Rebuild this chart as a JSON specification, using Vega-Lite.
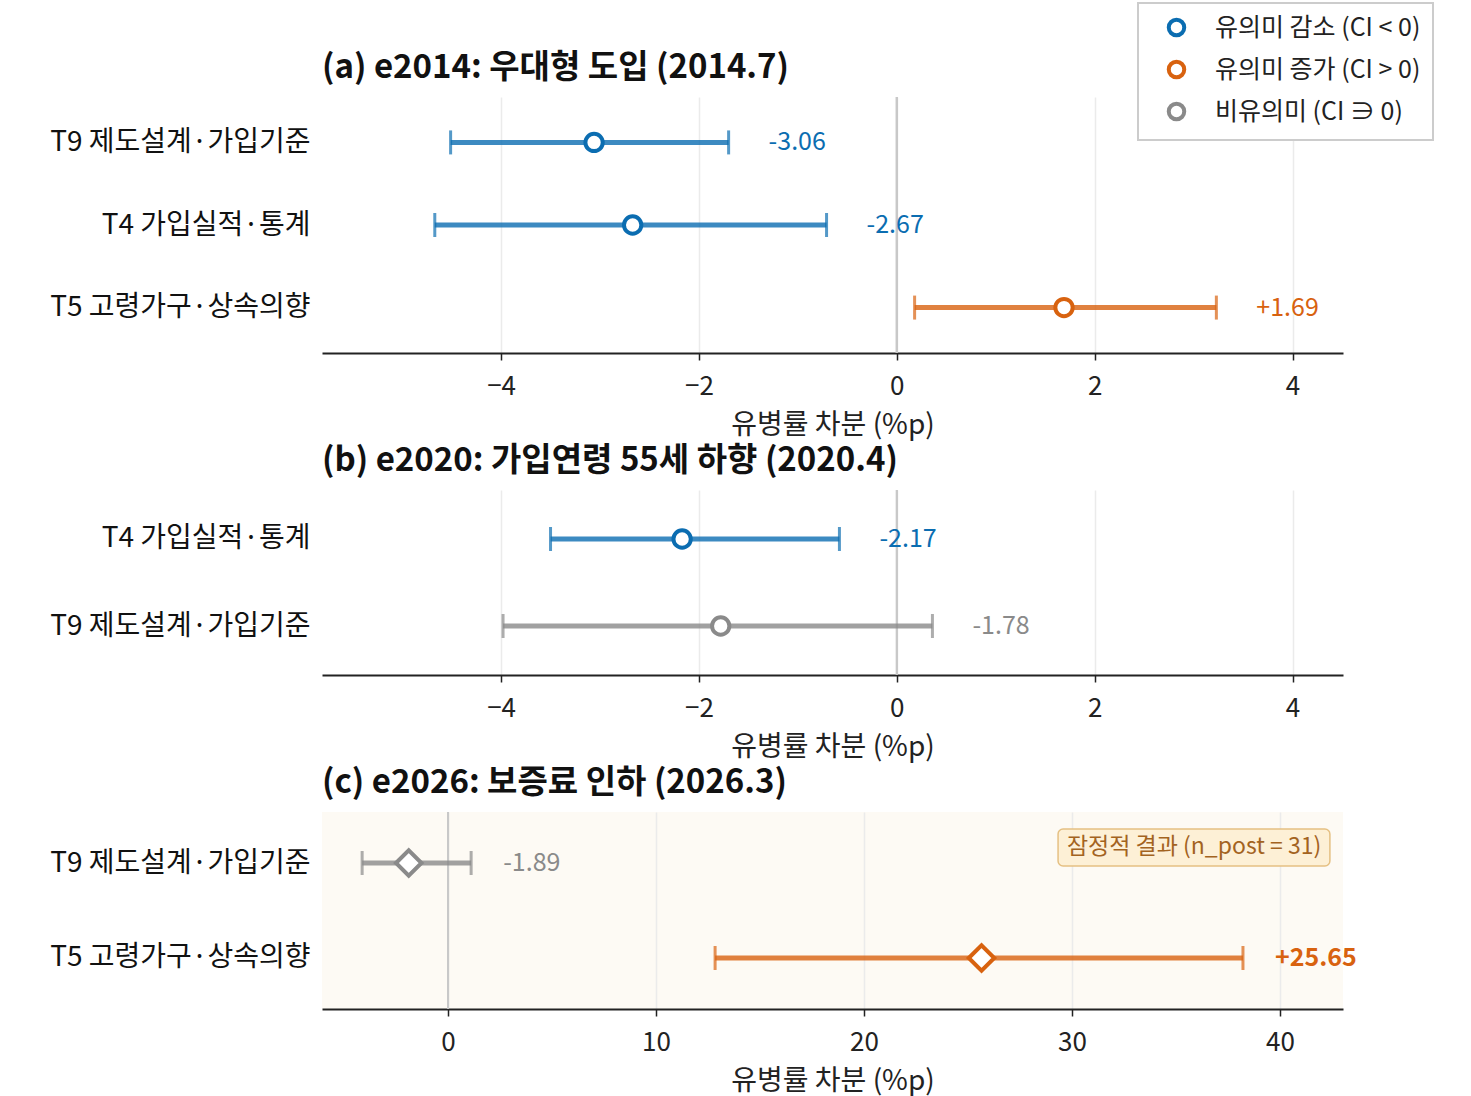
{
  "$schema": "https://vega.github.io/schema/vega-lite/v6.json",
  "background": "white",
  "padding": {"left": 49, "top": 2, "right": 5, "bottom": 5},
  "config": {
    "font": "Noto Sans CJK KR",
    "view": {"stroke": null},
    "concat": {"spacing": 6},
    "title": {"fontSize": 33, "fontWeight": "bold", "anchor": "start", "color": "#111111", "offset": 11, "frame": "group"},
    "axisX": {
      "domainColor": "#222222", "domainWidth": 2, "tickColor": "#222222", "tickWidth": 1.5, "tickSize": 7,
      "labelFontSize": 26, "labelColor": "#222222", "labelPadding": 13, "format": "d",
      "gridColor": "#ebebeb", "gridWidth": 1.5,
      "titleFontSize": 28, "titleFontWeight": "normal", "titleColor": "#222222", "titlePadding": 12
    },
    "axisY": {
      "domain": false, "ticks": false, "grid": false, "labelFontSize": 28, "labelColor": "#111111", "labelPadding": 12, "labelLimit": 0
    },
    "legend": {
      "orient": "none", "legendX": 816, "legendY": -94,
      "strokeColor": "#cccccc", "strokeWidth": 2, "fillColor": "white", "padding": 12,
      "symbolType": "circle", "symbolSize": 240, "symbolStrokeWidth": 4, "symbolFillColor": "white", "symbolOffset": 14,
      "labelFontSize": 25, "labelColor": "#222222", "labelOffset": 26, "rowPadding": 9, "labelLimit": 0
    }
  },
  "datasets": {
    "a": [
      {"topic": "T9 제도설계·가입기준", "est": -3.06, "lo": -4.51, "hi": -1.70, "sig": "유의미 감소 (CI < 0)", "label": "-3.06"},
      {"topic": "T4 가입실적·통계", "est": -2.67, "lo": -4.67, "hi": -0.71, "sig": "유의미 감소 (CI < 0)", "label": "-2.67"},
      {"topic": "T5 고령가구·상속의향", "est": 1.69, "lo": 0.18, "hi": 3.23, "sig": "유의미 증가 (CI > 0)", "label": "+1.69"}
    ],
    "b": [
      {"topic": "T4 가입실적·통계", "est": -2.17, "lo": -3.50, "hi": -0.58, "sig": "유의미 감소 (CI < 0)", "label": "-2.17"},
      {"topic": "T9 제도설계·가입기준", "est": -1.78, "lo": -3.98, "hi": 0.36, "sig": "비유의미 (CI ∋ 0)", "label": "-1.78"}
    ],
    "c": [
      {"topic": "T9 제도설계·가입기준", "est": -1.89, "lo": -4.13, "hi": 1.11, "sig": "비유의미 (CI ∋ 0)", "label": "-1.89"},
      {"topic": "T5 고령가구·상속의향", "est": 25.65, "lo": 12.84, "hi": 38.22, "sig": "유의미 증가 (CI > 0)", "label": "+25.65"}
    ]
  },
  "resolve": {"scale": {"color": "shared", "stroke": "shared", "fill": "shared"}},
  "vconcat": [
    {
      "width": 1021, "height": 256,
      "title": {"text": "(a) e2014: 우대형 도입 (2014.7)"},
      "data": {"name": "a"},
      "layer": [
        {"mark": {"type": "rule", "color": "#c8c8c8", "strokeWidth": 2},
         "encoding": {"x": {"datum": 0, "type": "quantitative", "scale": {"domain": [-5.81, 4.51], "nice": false, "zero": false},
           "axis": {"values": [-4, -2, 0, 2, 4], "title": "유병률 차분 (%p)", "grid": true}}}},
        {"mark": {"type": "rule", "strokeWidth": 5, "opacity": 0.8},
         "encoding": {"x": {"field": "lo", "type": "quantitative"}, "x2": {"field": "hi"},
           "y": {"field": "topic", "type": "nominal", "sort": null, "scale": {"type": "point", "padding": 0.55}, "axis": {"title": null}},
           "stroke": {"field": "sig", "type": "nominal", "legend": null,
             "scale": {"domain": ["비유의미 (CI ∋ 0)", "유의미 감소 (CI < 0)", "유의미 증가 (CI > 0)"], "range": ["#8a8a8a", "#0b6db1", "#d8620f"]}}}},
        {"mark": {"type": "tick", "orient": "vertical", "size": 24, "thickness": 3},
         "encoding": {"x": {"field": "lo", "type": "quantitative"}, "y": {"field": "topic", "type": "nominal", "sort": null},
           "fill": {"field": "sig", "type": "nominal", "legend": null,
             "scale": {"domain": ["비유의미 (CI ∋ 0)", "유의미 증가 (CI > 0)", "유의미 감소 (CI < 0)"], "range": ["#8a8a8a", "#d8620f", "#0b6db1"]}}}},
        {"mark": {"type": "tick", "orient": "vertical", "size": 24, "thickness": 3},
         "encoding": {"x": {"field": "hi", "type": "quantitative"}, "y": {"field": "topic", "type": "nominal", "sort": null},
           "fill": {"field": "sig", "type": "nominal", "legend": null}}},
        {"mark": {"type": "point", "shape": "circle", "size": 300, "strokeWidth": 4, "filled": false, "fill": "white", "opacity": 1},
         "encoding": {"x": {"field": "est", "type": "quantitative"}, "y": {"field": "topic", "type": "nominal", "sort": null},
           "color": {"field": "sig", "type": "nominal",
             "scale": {"domain": ["유의미 감소 (CI < 0)", "유의미 증가 (CI > 0)", "비유의미 (CI ∋ 0)"], "range": ["#0b6db1", "#d8620f", "#8a8a8a"]},
             "legend": {"title": null, "orient": "none", "legendX": 816, "legendY": -94,
               "encode": {"symbols": {"update": {"fill": {"value": "white"}, "strokeWidth": {"value": 4}}}}}}}},
        {"mark": {"type": "text", "align": "left", "baseline": "middle", "dx": 40, "fontSize": 25},
         "encoding": {"x": {"field": "hi", "type": "quantitative"}, "y": {"field": "topic", "type": "nominal", "sort": null},
           "text": {"field": "label"}, "fill": {"field": "sig", "type": "nominal", "legend": null}}}
      ]
    },
    {
      "width": 1021, "height": 185,
      "title": {"text": "(b) e2020: 가입연령 55세 하향 (2020.4)"},
      "data": {"name": "b"},
      "layer": [
        {"mark": {"type": "rule", "color": "#c8c8c8", "strokeWidth": 2},
         "encoding": {"x": {"datum": 0, "type": "quantitative", "scale": {"domain": [-5.81, 4.51], "nice": false, "zero": false},
           "axis": {"values": [-4, -2, 0, 2, 4], "title": "유병률 차분 (%p)", "grid": true}}}},
        {"mark": {"type": "rule", "strokeWidth": 5, "opacity": 0.8},
         "encoding": {"x": {"field": "lo", "type": "quantitative"}, "x2": {"field": "hi"},
           "y": {"field": "topic", "type": "nominal", "sort": null, "scale": {"type": "point", "padding": 0.563}, "axis": {"title": null}},
           "stroke": {"field": "sig", "type": "nominal", "legend": null}}},
        {"mark": {"type": "tick", "orient": "vertical", "size": 24, "thickness": 3},
         "encoding": {"x": {"field": "lo", "type": "quantitative"}, "y": {"field": "topic", "type": "nominal", "sort": null},
           "fill": {"field": "sig", "type": "nominal", "legend": null}}},
        {"mark": {"type": "tick", "orient": "vertical", "size": 24, "thickness": 3},
         "encoding": {"x": {"field": "hi", "type": "quantitative"}, "y": {"field": "topic", "type": "nominal", "sort": null},
           "fill": {"field": "sig", "type": "nominal", "legend": null}}},
        {"mark": {"type": "point", "shape": "circle", "size": 300, "strokeWidth": 4, "filled": false, "fill": "white", "opacity": 1},
         "encoding": {"x": {"field": "est", "type": "quantitative"}, "y": {"field": "topic", "type": "nominal", "sort": null},
           "color": {"field": "sig", "type": "nominal",
             "legend": {"title": null, "orient": "none", "legendX": 816, "legendY": -94,
               "encode": {"symbols": {"update": {"fill": {"value": "white"}, "strokeWidth": {"value": 4}}}}}}}},
        {"mark": {"type": "text", "align": "left", "baseline": "middle", "dx": 40, "fontSize": 25},
         "encoding": {"x": {"field": "hi", "type": "quantitative"}, "y": {"field": "topic", "type": "nominal", "sort": null},
           "text": {"field": "label"}, "fill": {"field": "sig", "type": "nominal", "legend": null}}}
      ]
    },
    {
      "width": 1021, "height": 197,
      "title": {"text": "(c) e2026: 보증료 인하 (2026.3)"},
      "view": {"fill": "#fdfaf4"},
      "data": {"name": "c"},
      "layer": [
        {"mark": {"type": "rule", "color": "#c8c8c8", "strokeWidth": 2},
         "encoding": {"x": {"datum": 0, "type": "quantitative", "scale": {"domain": [-6.06, 43.03], "nice": false, "zero": false},
           "axis": {"values": [0, 10, 20, 30, 40], "title": "유병률 차분 (%p)", "grid": true}}}},
        {"mark": {"type": "rule", "strokeWidth": 5, "opacity": 0.8},
         "encoding": {"x": {"field": "lo", "type": "quantitative"}, "x2": {"field": "hi"},
           "y": {"field": "topic", "type": "nominal", "sort": null, "scale": {"type": "point", "padding": 0.537}, "axis": {"title": null}},
           "stroke": {"field": "sig", "type": "nominal", "legend": null}}},
        {"mark": {"type": "tick", "orient": "vertical", "size": 24, "thickness": 3},
         "encoding": {"x": {"field": "lo", "type": "quantitative"}, "y": {"field": "topic", "type": "nominal", "sort": null},
           "fill": {"field": "sig", "type": "nominal", "legend": null}}},
        {"mark": {"type": "tick", "orient": "vertical", "size": 24, "thickness": 3},
         "encoding": {"x": {"field": "hi", "type": "quantitative"}, "y": {"field": "topic", "type": "nominal", "sort": null},
           "fill": {"field": "sig", "type": "nominal", "legend": null}}},
        {"mark": {"type": "point", "shape": "diamond", "size": 650, "strokeWidth": 4, "filled": false, "fill": "white", "opacity": 1},
         "encoding": {"x": {"field": "est", "type": "quantitative"}, "y": {"field": "topic", "type": "nominal", "sort": null},
           "stroke": {"field": "sig", "type": "nominal", "legend": null}}},
        {"transform": [{"filter": "datum.sig === '비유의미 (CI ∋ 0)'"}],
         "mark": {"type": "text", "align": "left", "baseline": "middle", "dx": 32, "fontSize": 25},
         "encoding": {"x": {"field": "hi", "type": "quantitative"}, "y": {"field": "topic", "type": "nominal", "sort": null},
           "text": {"field": "label"}, "fill": {"field": "sig", "type": "nominal", "legend": null}}},
        {"transform": [{"filter": "datum.sig !== '비유의미 (CI ∋ 0)'"}],
         "mark": {"type": "text", "align": "left", "baseline": "middle", "dx": 32, "fontSize": 25, "fontWeight": "bold"},
         "encoding": {"x": {"field": "hi", "type": "quantitative"}, "y": {"field": "topic", "type": "nominal", "sort": null},
           "text": {"field": "label"}, "fill": {"field": "sig", "type": "nominal", "legend": null}}},
        {"data": {"values": [{"note": "잠정적 결과 (n_post = 31)"}]},
         "mark": {"type": "rect", "fill": "#fdf0d6", "stroke": "#e5c083", "strokeWidth": 1.5, "cornerRadius": 5, "yOffset": -34, "y2Offset": 3},
         "encoding": {"x": {"datum": 29.33, "type": "quantitative"}, "x2": {"datum": 42.4},
           "y": {"datum": "T9 제도설계·가입기준", "type": "nominal"}, "y2": {"datum": "T9 제도설계·가입기준"}}},
        {"data": {"values": [{"note": "잠정적 결과 (n_post = 31)"}]},
         "mark": {"type": "text", "align": "center", "baseline": "middle", "fontSize": 23, "color": "#a3631f", "yOffset": -16},
         "encoding": {"x": {"datum": 35.87, "type": "quantitative"},
           "y": {"datum": "T9 제도설계·가입기준", "type": "nominal"}, "text": {"field": "note"}}}
      ]
    }
  ]
}
